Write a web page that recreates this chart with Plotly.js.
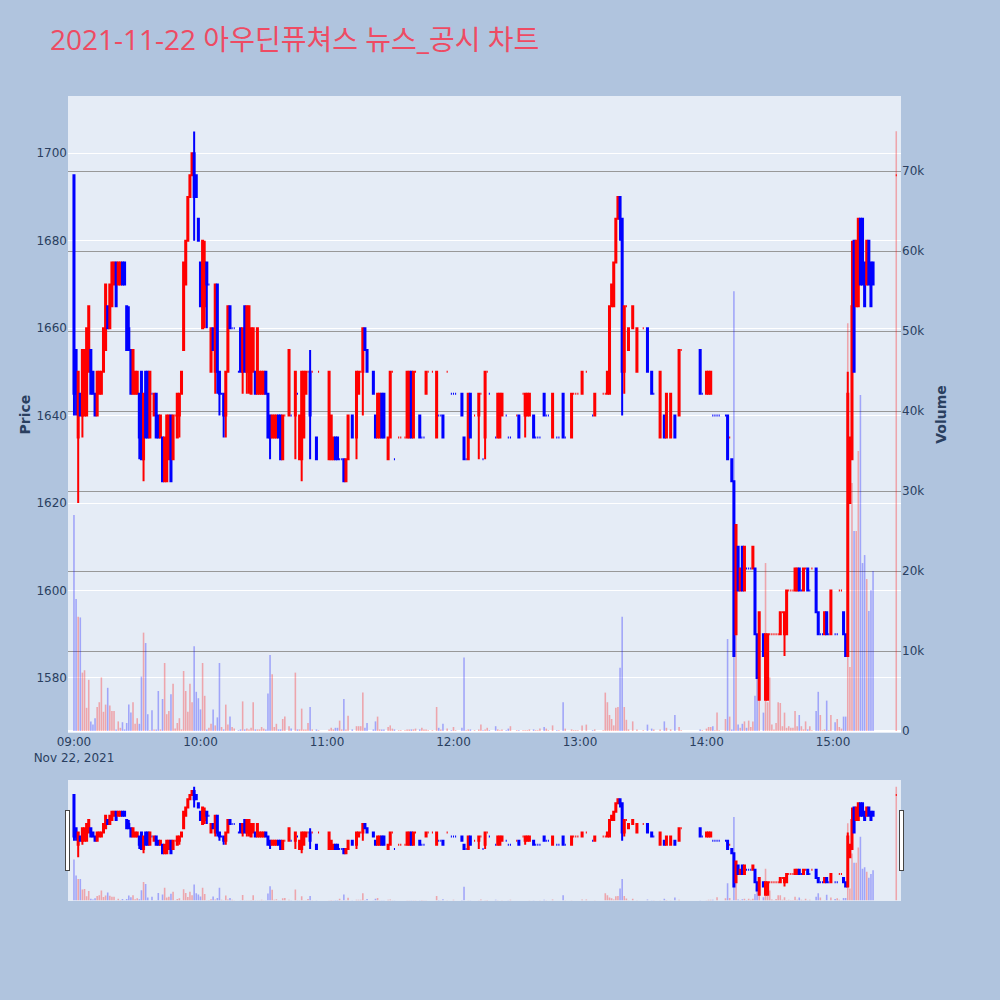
<!DOCTYPE html>
<html>
<head>
<meta charset="utf-8">
<script src="https://cdn.plot.ly/plotly-3.0.1.min.js"></script>
<style>html,body{margin:0;padding:0;background:#b0c4de;}</style>
</head>
<body>
<div id="chart" style="width:1000px;height:1000px;"></div>
<script>
const tradeDate = '2021-11-22';
const chartTitle = '2021-11-22 아우딘퓨쳐스 뉴스_공시 차트';

// minutes after 09:00
const minuteOffsets = [
  0,1,2,3,4,5,6,7,8,9, 10,11,12,13,14,15,16,17,18,19, 20,21,22,23,24,25,26,27,28,29,
  30,31,32,33,34,35,36,37,38,39, 40,41,42,43,44,45,46,47,48,49, 50,51,52,53,54,55,56,57,58,59,
  60,61,62,63,64,65,66,67,68,69, 70,71,72,73,74,75,76,78,79,80, 81,82,83,84,85,86,87,88,89,90,
  91,92,93,94,95,96,97,98,99,100, 102,103,105,106,107,108,109,110,111,112, 113,115,116,
  121,122,123,124,125,126,127,128,129,130, 132,134,135,136,137,138,139,142,143,144,
  145,146,147,149,150,151,152,154,155,157, 158,159,160,161,162,164,165,166,167,168, 170,172,173,174,175,177,179,
  180,181,184,185,186,187,188,190,192,193, 194,195,196,197,200,201,202,203,205,206,
  207,210,211,213,214,215,216,218,219,220, 221,223,224,225,227,229,230,232,233,236, 237,238,239,
  241,243,246,247,251,252,253,254,255,256, 257,258,259,260,261,262,263,265,267,270,
  272,274,275,278,280,281,283,285,287,288, 297,298,
  300,301,302,303,304,305,306,309,310,311, 312,313,314,315,316,317,318,319,320,321,
  322,323,324,325,327,328,329,330,331,332, 333,334,335,336,337,338,339,340,341,342,
  343,344,345,346,347,348,349,350,352,353, 354,355,356,357,358,359,
  361,362,363,364,365,366,367,368,369,370, 371,372,373,374,375,376,377,378,379,390
];

const openPrices = [
  1695,1655,1635,1645,1640,1640,1640,1650,1655,1650, 1645,1640,1645,1645,1650,1655,1665,1660,1665,1670,
  1675,1670,1670,1675,1675,1665,1660,1655,1645,1645, 1645,1645,1650,1630,1650,1650,1635,1645,1640,1645,
  1640,1635,1635,1625,1625,1630,1640,1630,1640,1635, 1640,1645,1655,1670,1680,1690,1695,1700,1695,1685,
  1675,1660,1665,1675,1670,1650,1660,1650,1670,1650, 1645,1645,1640,1650,1665,1660,1660,1650,1660,1650,
  1665,1650,1650,1645,1650,1650,1645,1645,1645,1645, 1650,1645,1640,1635,1635,1635,1640,1640,1630,1640,
  1640,1640,1640,1645,1630,1630,1635,1645,1650,1650, 1650,1635,1650,
  1630,1630,1630,1635,1635,1630,1630,1630,1625,1630, 1640,1635,1645,1650,1650,1660,1655,1650,1640,1635,
  1635,1645,1645,1630,1635,1650,1630,1635,1635,1635, 1635,1635,1650,1635,1650,1640,1635,1635,1645,1650,
  1650,1635,1640,1640,1640,1650,1645,
  1645,1645,1645,1635,1630,1630,1645,1640,1640,1645, 1630,1635,1650,1645,1635,1635,1635,1640,1640,1635,
  1635,1640,1640,1645,1640,1640,1640,1640,1635,1635, 1635,1645,1640,1640,1635,1635,1635,1645,1635,1635,
  1645,1645,1645,
  1645,1650,1640,1640,1645,1645,1645,1645,1665,1665, 1675,1685,1690,1685,1650,1665,1655,1660,1650,1660,
  1660,1650,1645,1635,1640,1635,1635,1640,1640,1655, 1655,1645,
  1645,1645,1645,1640,1640,1640,1640,1640,1640,1635, 1630,1625,1590,1610,1600,1610,1600,1605,1605,1605,
  1605,1605,1590,1575,1590,1575,1575,1590,1590,1590, 1590,1590,1590,1595,1590,1590,1600,1600,1600,1600,
  1600,1605,1600,1600,1605,1605,1600,1605,1605,1595, 1590,1590,1590,1595,1590,1590,
  1590,1590,1600,1600,1595,1590,1585,1620,1630,1680, 1665,1665,1685,1685,1675,1670,1680,1675,1675,1695
];

const highPrices = [
  1695,1655,1650,1645,1655,1655,1660,1665,1655,1650, 1645,1650,1650,1650,1660,1670,1665,1670,1675,1675,
  1675,1675,1675,1675,1675,1665,1665,1655,1655,1650, 1650,1645,1650,1645,1650,1650,1650,1645,1645,1645,
  1640,1640,1635,1635,1640,1640,1640,1640,1640,1645, 1645,1650,1675,1680,1690,1695,1700,1705,1695,1685,
  1675,1680,1680,1675,1670,1660,1660,1670,1670,1650, 1645,1645,1650,1665,1665,1660,1660,1650,1660,1660,
  1665,1665,1665,1660,1660,1650,1660,1650,1650,1650, 1650,1645,1640,1640,1640,1640,1640,1640,1640,1640,
  1655,1640,1650,1645,1640,1650,1650,1650,1650,1655, 1650,1635,1650,
  1650,1640,1635,1635,1635,1630,1630,1630,1630,1640, 1640,1650,1650,1650,1660,1660,1655,1650,1640,1645,
  1645,1645,1645,1635,1650,1650,1630,1635,1635,1635, 1650,1650,1650,1650,1650,1640,1635,1635,1650,1650,
  1650,1650,1640,1640,1640,1650,1645,
  1645,1645,1645,1635,1630,1645,1645,1640,1645,1645, 1630,1650,1650,1645,1635,1645,1645,1645,1640,1635,
  1635,1640,1640,1645,1645,1645,1645,1640,1635,1635, 1635,1645,1640,1640,1645,1635,1635,1645,1635,1645,
  1645,1645,1645,
  1650,1650,1640,1645,1645,1645,1650,1665,1670,1675, 1685,1690,1690,1685,1665,1665,1660,1665,1660,1660,
  1660,1650,1645,1650,1640,1645,1645,1640,1655,1655, 1655,1645,
  1650,1650,1650,1640,1640,1640,1640,1640,1640,1635, 1630,1625,1615,1610,1605,1610,1610,1605,1605,1605,
  1610,1605,1590,1595,1590,1590,1590,1590,1590,1590, 1590,1590,1595,1595,1595,1600,1600,1600,1600,1605,
  1605,1605,1600,1605,1605,1605,1600,1605,1605,1595, 1590,1590,1595,1595,1590,1600,
  1590,1590,1600,1600,1595,1590,1650,1635,1680,1680, 1680,1685,1685,1685,1675,1680,1680,1675,1675,1695
];

const lowPrices = [
  1640,1640,1620,1640,1635,1640,1640,1650,1645,1645, 1640,1640,1645,1645,1650,1655,1660,1660,1665,1670,
  1665,1670,1670,1670,1670,1655,1655,1645,1645,1645, 1645,1630,1630,1625,1635,1635,1635,1645,1640,1635,
  1635,1635,1625,1625,1625,1630,1625,1630,1640,1635, 1635,1645,1655,1670,1680,1690,1695,1680,1690,1680,
  1665,1660,1660,1660,1670,1650,1655,1645,1645,1640, 1645,1635,1635,1650,1660,1660,1660,1650,1650,1645,
  1650,1645,1645,1645,1650,1645,1645,1645,1645,1645, 1645,1635,1630,1635,1635,1635,1635,1630,1630,1640,
  1640,1640,1630,1645,1630,1625,1635,1645,1650,1630, 1650,1630,1650,
  1630,1630,1630,1630,1630,1630,1630,1625,1625,1630, 1635,1630,1645,1650,1640,1655,1650,1645,1635,1635,
  1635,1635,1635,1630,1635,1650,1630,1635,1635,1635, 1635,1635,1635,1635,1650,1635,1635,1635,1645,1650,
  1650,1635,1640,1640,1635,1650,1645,
  1645,1645,1640,1630,1630,1630,1635,1640,1630,1645, 1630,1630,1650,1645,1635,1635,1635,1640,1640,1635,
  1635,1640,1635,1645,1635,1640,1640,1635,1635,1635, 1635,1640,1640,1640,1635,1635,1635,1635,1635,1635,
  1645,1645,1645,
  1645,1650,1640,1640,1645,1645,1645,1645,1665,1665, 1675,1685,1680,1640,1645,1665,1655,1660,1650,1660,
  1650,1645,1645,1635,1635,1635,1635,1635,1640,1655, 1645,1645,
  1645,1645,1645,1640,1640,1640,1640,1640,1630,1635, 1625,1585,1590,1600,1600,1600,1600,1605,1605,1605,
  1605,1590,1580,1575,1585,1575,1575,1590,1590,1590, 1590,1590,1590,1595,1585,1590,1600,1600,1600,1600,
  1600,1600,1600,1600,1605,1600,1600,1605,1595,1590, 1590,1590,1590,1590,1590,1590,
  1590,1590,1600,1600,1590,1585,1585,1620,1630,1650, 1665,1665,1670,1670,1665,1670,1670,1665,1670,1695
];

const closePrices = [
  1645,1645,1650,1640,1655,1655,1660,1665,1645,1645, 1640,1650,1650,1650,1660,1670,1660,1670,1675,1675,
  1665,1675,1675,1670,1670,1655,1655,1645,1655,1650, 1650,1635,1630,1645,1635,1635,1650,1645,1645,1635,
  1635,1640,1625,1635,1640,1640,1625,1640,1640,1645, 1645,1650,1675,1680,1690,1695,1700,1690,1690,1680,
  1665,1680,1675,1670,1670,1660,1655,1670,1650,1645, 1645,1640,1650,1665,1660,1660,1660,1650,1650,1660,
  1650,1665,1665,1660,1660,1645,1660,1650,1650,1650, 1645,1635,1635,1640,1640,1640,1635,1630,1640,1640,
  1655,1640,1650,1645,1640,1650,1650,1650,1650,1640, 1650,1630,1650,
  1650,1640,1635,1630,1630,1630,1630,1625,1630,1640, 1635,1650,1650,1650,1660,1655,1650,1645,1635,1645,
  1645,1635,1635,1635,1650,1650,1630,1635,1635,1635, 1650,1650,1635,1650,1650,1635,1635,1635,1650,1650,
  1650,1650,1640,1640,1635,1650,1645,
  1645,1645,1640,1630,1630,1645,1635,1640,1645,1645, 1630,1650,1650,1645,1635,1645,1645,1645,1640,1635,
  1635,1640,1635,1645,1645,1645,1645,1635,1635,1635, 1635,1640,1640,1640,1645,1635,1635,1635,1635,1645,
  1645,1645,1645,
  1650,1650,1640,1645,1645,1645,1650,1665,1670,1675, 1685,1690,1685,1650,1665,1665,1660,1665,1660,1660,
  1650,1645,1645,1650,1635,1645,1645,1635,1655,1655, 1645,1645,
  1650,1650,1650,1640,1640,1640,1640,1640,1630,1635, 1625,1585,1615,1600,1605,1600,1610,1605,1605,1605,
  1610,1590,1580,1595,1585,1590,1590,1590,1590,1590, 1590,1590,1595,1595,1595,1600,1600,1600,1600,1605,
  1605,1600,1600,1605,1605,1600,1600,1605,1595,1590, 1590,1590,1595,1590,1590,1600,
  1590,1590,1600,1600,1590,1585,1645,1635,1665,1650, 1680,1685,1670,1670,1665,1680,1670,1665,1670,1695
];

// volume in thousands of shares
const volumeK = [
  27,16.5,14.3,14.2,7.3,7.6,2.9,6.4,1.2,0.8, 1.6,3.0,3.6,6.7,2.4,3.3,5.4,3.2,2.5,2.5,
  0.2,1.2,0.4,1.1,0.2,1.0,3.3,2.3,3.6,0.9, 1.6,0.9,6.8,12.3,11.0,2.1,0.1,2.6,0.2,0.2,
  5.0,0.2,4.0,8.5,2.1,2.5,4.6,5.9,0.3,1.0, 1.6,0.2,7.5,5.0,2.4,5.9,3.6,10.6,4.9,4.1,
  2.7,8.5,4.4,0.2,0.4,0.9,2.7,0.7,1.7,8.5, 0.5,0.2,3.3,0.8,1.8,0.5,0.3,0.1,0.2,3.7,
  0.2,0.3,0.2,0.4,3.6,0.2,0.2,0.2,0.5,0.3, 0.2,4.7,9.5,7.1,0.5,0.9,0.2,0.2,1.5,1.8,
  0.6,0.3,7.3,0.2,0.2,2.8,0.2,0.2,1.0,3.0, 0.2,0.2,0.1,
  0.2,0.4,0.2,0.4,0.4,1.3,0.2,4.0,0.2,1.9, 0.2,0.6,0.6,0.6,4.8,0.4,1.0,0.2,1.2,1.8,
  0.2,0.2,0.2,0.5,0.7,0.3,0.2,0.1,0.1,0.1, 0.2,0.2,0.2,0.2,0.3,0.2,0.4,0.2,0.2,0.1,
  0.1,3.0,0.4,0.2,0.9,0.3,0.1,
  0.5,0.1,0.4,9.2,0.1,0.2,0.2,0.1,0.2,0.8, 0.1,0.2,0.4,0.1,0.6,0.2,0.1,0.2,0.1,0.3,
  0.6,0.1,0.1,0.1,0.1,0.1,0.2,0.2,0.1,0.1, 0.3,0.5,0.3,0.1,0.7,0.1,0.1,3.6,0.3,0.2,
  0.1,0.1,0.1,
  0.7,0.8,0.1,0.2,0.1,4.8,3.6,2.0,1.5,0.7, 2.9,3.0,7.9,14.3,3.0,1.4,0.2,1.2,0.2,0.1,
  0.8,0.3,0.2,0.2,1.2,0.4,0.2,2.0,0.5,0.1, 0.2,0.1,
  0.3,0.5,0.5,0.6,0.1,2.3,0.1,1.5,11.5,1.8, 0.2,55,20,0.8,0.4,0.9,1.2,0.4,1.3,0.5,
  1.2,4.4,6.5,6.4,2.3,21,3.6,6.7,0.8,0.2, 1.0,3.6,3.5,0.6,2.3,0.4,0.6,0.4,0.4,2.5,
  0.6,2.0,0.6,0.2,1.2,0.2,0.6,0.1,2.5,4.9, 2.0,0.1,0.2,3.8,0.1,2.0,
  1.1,1.5,0.5,0.3,1.8,1.8,51,8,31,25, 25,35,42,21,22,19,15,17.6,20,75
];

const priceTicks = [1580, 1600, 1620, 1640, 1660, 1680, 1700];
const volumeTickVals = [0, 10, 20, 30, 40, 50, 60, 70];
const volumeTickText = ['0', '10k', '20k', '30k', '40k', '50k', '60k', '70k'];

function toTimestamp(m) {
  const h = 9 + Math.floor(m / 60);
  const mm = m % 60;
  return tradeDate + ' ' + String(h).padStart(2, '0') + ':' + String(mm).padStart(2, '0') + ':00';
}
const times = minuteOffsets.map(toTimestamp);

const volumeColors = closePrices.map((c, i) => {
  const o = openPrices[i];
  let up;
  if (c > o) up = true;
  else if (c < o) up = false;
  else up = i > 0 ? c >= closePrices[i - 1] : true;
  return up ? 'rgba(255,0,0,0.3)' : 'rgba(0,0,255,0.3)';
});

const volumeTrace = {
  type: 'bar',
  x: times,
  y: volumeK,
  marker: { color: volumeColors, line: { width: 0 } },
  width: 45000,
  yaxis: 'y',
  hoverinfo: 'skip',
  name: 'Volume'
};

const priceTrace = {
  type: 'candlestick',
  x: times,
  open: openPrices,
  high: highPrices,
  low: lowPrices,
  close: closePrices,
  yaxis: 'y2',
  increasing: { line: { color: 'red', width: 2 }, fillcolor: 'red' },
  decreasing: { line: { color: 'blue', width: 2 }, fillcolor: 'blue' },
  hoverinfo: 'skip',
  name: 'Price'
};

const axisFont = '"DejaVu Sans", Verdana, sans-serif';

const layout = {
  width: 1000,
  height: 1000,
  paper_bgcolor: '#b0c4de',
  plot_bgcolor: '#e5ecf6',
  showlegend: false,
  margin: { l: 68, r: 99, t: 96, b: 100 },
  font: { family: axisFont, size: 12, color: '#2a3f5f' },
  title: {
    text: chartTitle,
    font: { size: 28, color: '#ee4b63', family: '"Open Sans", "Noto Sans CJK KR", sans-serif' },
    x: 0.05, xanchor: 'left', xref: 'container',
    y: 0.96, yanchor: 'middle', yref: 'container'
  },
  xaxis: {
    type: 'date',
    range: ['2021-11-22 08:57:10', '2021-11-22 15:32:15'],
    showgrid: false,
    zeroline: false,
    dtick: 3600000,
    tickformat: '%H:%M\n%b %d, %Y',
    rangeslider: {
      visible: true,
      thickness: 0.15,
      bgcolor: '#e5ecf6',
      borderwidth: 0,
      yaxis: { rangemode: 'match' },
      yaxis2: { rangemode: 'match' }
    }
  },
  yaxis: {
    side: 'right',
    range: [-0.25, 79.4],
    tickvals: volumeTickVals,
    ticktext: volumeTickText,
    showgrid: true,
    gridcolor: '#989898',
    gridwidth: 1,
    zeroline: true,
    zerolinecolor: 'white',
    zerolinewidth: 2,
    title: { text: '<b>Volume</b>', font: { size: 14, color: '#2a3f5f', family: axisFont } }
  },
  yaxis2: {
    overlaying: 'y',
    side: 'left',
    range: [1567.4, 1713.1],
    tickvals: priceTicks,
    showgrid: true,
    gridcolor: 'white',
    gridwidth: 1,
    zeroline: false,
    title: { text: '<b>Price</b>', font: { size: 14, color: '#2a3f5f', family: axisFont } }
  }
};

Plotly.newPlot('chart', [volumeTrace, priceTrace], layout, { displayModeBar: false, staticPlot: true });
</script>
</body>
</html>
